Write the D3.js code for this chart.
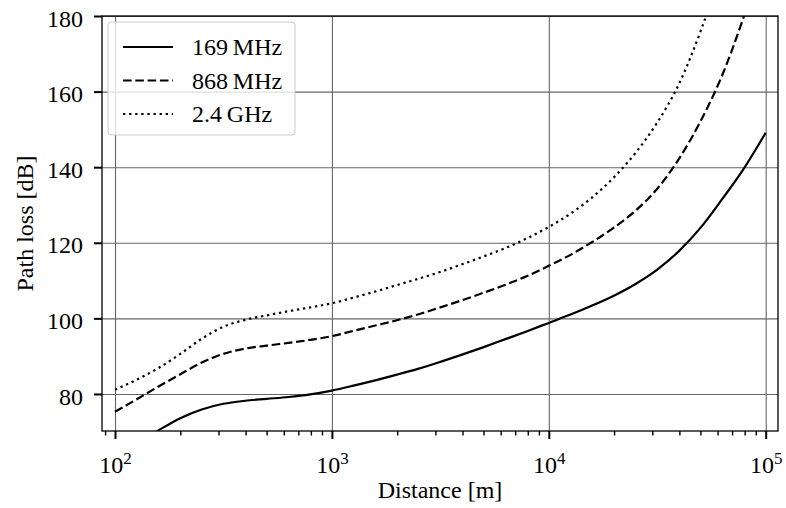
<!DOCTYPE html>
<html>
<head>
<meta charset="utf-8">
<script src="https://cdn.jsdelivr.net/npm/d3@7"></script>
<style>
  body { margin: 0; background: #fff; }
  svg text { font-family: "Liberation Serif", "DejaVu Serif", serif; fill: #000; }
</style>
</head>
<body>
<div id="chart"></div>
<script>
// distance grid (m), 0.1 decade steps from 10^2 to 10^5
var distance = [100, 126, 158, 200, 251, 316, 398, 501, 631, 794,
                1000, 1259, 1585, 1995, 2512, 3162, 3981, 5012, 6310, 7943,
                10000, 12589, 15849, 19953, 25119, 31623, 39811, 50119, 63096, 79433, 100000];

// path loss (dB)
var loss169 = [63.0, 66.8, 70.3, 73.6, 75.9, 77.4, 78.2, 78.7, 79.2, 79.9,
               80.9, 82.2, 83.6, 85.1, 86.7, 88.5, 90.4, 92.4, 94.5, 96.6,
               98.8, 101.0, 103.4, 106.0, 109.1, 112.9, 117.8, 124.0, 131.6, 139.7, 149.1];
var loss868 = [75.3, 78.6, 81.9, 85.2, 88.3, 90.6, 92.0, 92.8, 93.5, 94.3,
               95.3, 96.7, 98.1, 99.5, 101.1, 102.9, 104.8, 106.8, 108.9, 111.2,
               113.9, 116.8, 120.2, 124.0, 128.5, 134.3, 142.2, 152.2, 164.4, 180.0, 198.0];
var loss2400 = [81.1, 83.8, 86.8, 90.6, 94.6, 97.8, 99.6, 100.8, 101.9, 102.9,
                104.0, 105.5, 107.1, 108.8, 110.5, 112.3, 114.3, 116.4, 118.6, 121.2,
                124.2, 127.7, 132.0, 137.3, 143.8, 151.8, 162.0, 176.0, 193.0, null, null];

var seriesNames = ["169\u2009MHz", "868\u2009MHz", "2.4\u2009GHz"];
var xMajor = [1e2, 1e3, 1e4, 1e5];
var yTicks = [80, 100, 120, 140, 160, 180];

var svg = d3.select("#chart").append("svg")
    .attr("width", 786)
    .attr("height", 508);

var margin = {top: 16, left: 102};
var width = 676;
var height = 415;

var x = d3.scaleLog().domain([87.1, 113960]).range([0, width]);
var y = d3.scaleLinear().domain([70.2, 180]).range([height, 0]);

svg.append("defs").append("clipPath").attr("id", "plotclip")
    .append("rect").attr("width", width).attr("height", height);

var g = svg.append("g").attr("transform", "translate(" + margin.left + "," + margin.top + ")");

// gridlines
g.append("g")
    .attr("transform", "translate(0," + height + ")")
    .call(d3.axisBottom(x).tickValues(xMajor).tickSize(-height).tickFormat(""))
    .call(function(s) { s.select(".domain").remove(); })
    .selectAll("line").attr("stroke", "#666").attr("stroke-width", 1.1);

g.append("g")
    .call(d3.axisLeft(y).tickValues(yTicks).tickSize(-width).tickFormat(""))
    .call(function(s) { s.select(".domain").remove(); })
    .selectAll("line").attr("stroke", "#666").attr("stroke-width", 1.1);

// curves
var series = [
  {name: seriesNames[0], values: loss169, dash: null},
  {name: seriesNames[1], values: loss868, dash: "8.6,3.7"},
  {name: seriesNames[2], values: loss2400, dash: "2.3,3.8"}
];

var line = d3.line()
    .defined(function(d) { return d[1] != null; })
    .curve(d3.curveMonotoneX)
    .x(function(d) { return x(d[0]); })
    .y(function(d) { return y(d[1]); });

g.append("g").attr("clip-path", "url(#plotclip)")
  .selectAll("path")
  .data(series)
  .enter().append("path")
    .attr("fill", "none")
    .attr("stroke", "#000")
    .attr("stroke-width", 2.2)
    .attr("stroke-dasharray", function(d) { return d.dash; })
    .attr("d", function(d) {
      return line(distance.map(function(v, i) { return [v, d.values[i]]; }));
    });

// frame
g.append("rect")
    .attr("width", width)
    .attr("height", height)
    .attr("fill", "none")
    .attr("stroke", "#000")
    .attr("stroke-width", 1.3);

// x axis: minor ticks
var xMinor = x.ticks().filter(function(d) { return xMajor.indexOf(d) < 0; });
g.append("g")
    .attr("transform", "translate(0," + height + ")")
    .call(d3.axisBottom(x).tickValues(xMinor).tickSize(4.5).tickFormat(""))
    .call(function(s) { s.select(".domain").remove(); })
    .selectAll("line").attr("stroke", "#000").attr("stroke-width", 1.4);

// x axis: major ticks with 10^k labels
var xAxis = g.append("g")
    .attr("transform", "translate(0," + height + ")")
    .call(d3.axisBottom(x).tickValues(xMajor).tickSize(8).tickFormat(function() { return "10"; }));
xAxis.select(".domain").remove();
xAxis.selectAll("line").attr("stroke", "#000").attr("stroke-width", 2);
xAxis.selectAll("text")
    .attr("y", 42)
    .attr("dy", 0)
    .attr("font-size", "24px")
    .attr("fill", "#000")
    .append("tspan")
      .attr("dy", -9)
      .attr("font-size", "17px")
      .text(function(d) { return Math.round(Math.log10(d)); });

// y axis
var yAxis = g.append("g")
    .call(d3.axisLeft(y).tickValues(yTicks).tickSize(8).tickPadding(11));
yAxis.select(".domain").remove();
yAxis.selectAll("line").attr("stroke", "#000").attr("stroke-width", 2);
yAxis.selectAll("text")
    .attr("dy", "0.42em")
    .attr("font-size", "24px")
    .attr("fill", "#000");

// axis labels
svg.append("text")
    .attr("x", margin.left + width / 2)
    .attr("y", 498)
    .attr("text-anchor", "middle")
    .attr("font-size", "24px")
    .text("Distance [m]");

svg.append("text")
    .attr("text-anchor", "middle")
    .attr("transform", "translate(33," + (margin.top + height / 2) + ")rotate(-90)")
    .attr("font-size", "24px")
    .text("Path loss [dB]");

// legend
var legend = g.append("g").attr("transform", "translate(6,6)");
legend.append("rect")
    .attr("width", 187)
    .attr("height", 113)
    .attr("rx", 3)
    .attr("fill", "#fff")
    .attr("fill-opacity", 0.8)
    .attr("stroke", "#ccc")
    .attr("stroke-width", 1);

var item = legend.selectAll(".item")
    .data(series)
    .enter().append("g")
    .attr("class", "item")
    .attr("transform", function(d, i) { return "translate(0," + (25 + i * 33.5) + ")"; });

item.append("line")
    .attr("x1", 15).attr("x2", 65)
    .attr("stroke", "#000")
    .attr("stroke-width", 2.2)
    .attr("stroke-dasharray", function(d) { return d.dash; });

item.append("text")
    .attr("x", 84)
    .attr("dy", "0.35em")
    .attr("font-size", "24px")
    .text(function(d) { return d.name; });
</script>
</body>
</html>
